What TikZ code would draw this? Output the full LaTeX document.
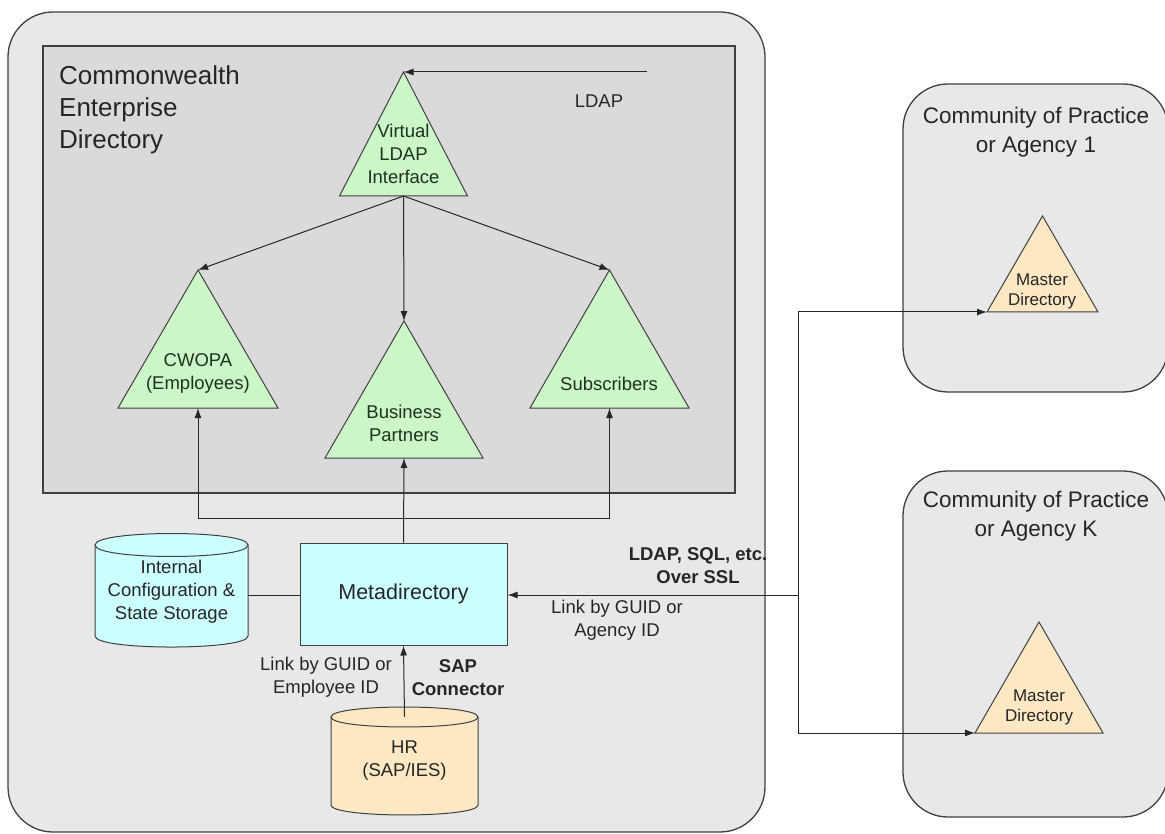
\documentclass[tikz,border=0pt]{standalone}
\usepackage{fontspec}
\setmainfont{Liberation Sans}
\usetikzlibrary{arrows.meta}
\definecolor{outerfill}{HTML}{E8E8E8}
\definecolor{innerfill}{HTML}{DADADA}
\definecolor{edgec}{HTML}{404040}
\definecolor{trigreen}{HTML}{CCF5C8}
\definecolor{peach}{HTML}{FDE8C4}
\definecolor{cyanfill}{HTML}{CCFFFF}
\definecolor{txt}{HTML}{262626}
\definecolor{greentxt}{HTML}{1E331E}
\begin{document}
\begin{tikzpicture}[x=1pt,y=-1pt,
  container/.style={draw=edgec, line width=1.3pt, fill=outerfill, rounded corners=45pt},
  tribox/.style={minimum width=#1, inner sep=0pt, outer sep=0pt, draw=none},
  tri/.style={draw=edgec, line width=1pt, fill=trigreen, line join=miter},
  tritext/.style={font=\fontsize{18.5}{23}\selectfont, text=greentxt, align=center, inner sep=0pt},
  mastertext/.style={font=\fontsize{17}{20}\selectfont, text=txt, align=center, inner sep=0pt},
  lbl/.style={font=\fontsize{18.5}{23}\selectfont, text=txt, align=center, inner sep=0pt},
  blbl/.style={font=\fontsize{18.5}{23}\selectfont\bfseries, text=txt, align=center, inner sep=0pt},
  arr/.style={-{Latex[length=10pt,width=7pt]}, line width=1pt, draw=black!85},
  plain/.style={line width=1pt, draw=black!85},
  cyl/.style={draw=edgec, line width=1pt}
]
\useasboundingbox (0,0) rectangle (1165,834);

% outer containers
\draw[container] (8,12) rectangle (765,832);
\draw[container] (903,84) rectangle (1168,392);
\draw[container] (903,471) rectangle (1168,817);

% inner directory box
\draw[draw=edgec, line width=1.3pt, fill=innerfill] (43,46) rectangle (735,493);
\node[anchor=west, align=left, inner sep=0pt, text=txt,
      font=\fontsize{26}{32}\selectfont] (ced) at (59,110) {Commonwealth\\Enterprise\\Directory};

% right box titles
\node[inner sep=0pt, align=center, text=txt, font=\fontsize{22.5}{29}\selectfont] (cop1) at (1036,132.5) {Community of Practice\\or Agency 1};
\node[inner sep=0pt, align=center, text=txt, font=\fontsize{22.5}{29}\selectfont] (copk) at (1036,516) {Community of Practice\\or Agency K};

% triangle placeholders
\node[tribox=128pt, minimum height=124pt] (vl) at (403.5,134) {};
\node[tribox=160pt, minimum height=138pt] (cwopa) at (198,339) {};
\node[tribox=158pt, minimum height=137pt] (bp) at (404,389.5) {};
\node[tribox=159pt, minimum height=138pt] (subs) at (609.5,339) {};
\node[tribox=111pt, minimum height=96pt] (m1) at (1042.5,264) {};
\node[tribox=128pt, minimum height=111pt] (mk) at (1039,677.5) {};

\foreach \t in {vl,cwopa,bp,subs}
  \draw[tri] (\t.north) -- (\t.south east) -- (\t.south west) -- cycle;
\foreach \t in {m1,mk}
  \draw[tri, fill=peach] (\t.north) -- (\t.south east) -- (\t.south west) -- cycle;

\node[tritext] (vlt) at (403.5,154) {Virtual\\LDAP\\Interface};
\node[tritext] (cwt) at (198,373) {CWOPA\\(Employees)};
\node[tritext] (bpt) at (404,423) {Business\\Partners};
\node[tritext] (sbt) at (609,384) {Subscribers};
\node[mastertext] (m1t) at (1042,291) {Master\\Directory};
\node[mastertext] (mkt) at (1039,707.5) {Master\\Directory};

% metadirectory
\node[draw=edgec, line width=1pt, fill=cyanfill, minimum width=207pt, minimum height=102pt,
      inner sep=0pt, text=txt, font=\fontsize{21.5}{26}\selectfont] (meta) at (403.5,594) {Metadirectory};

% internal storage cylinder
\path[cyl, fill=cyanfill] (95,545) -- (95,636) .. controls (95,650.7) and (248,650.7) .. (248,636)
  -- (248,545) .. controls (248,529.7) and (95,529.7) .. (95,545) -- cycle;
\draw[cyl] (95,545) .. controls (95,560.3) and (248,560.3) .. (248,545);
\node[lbl, minimum width=153pt, minimum height=114pt] (ics) at (171.5,592) {Internal\\Configuration \&\\State Storage};

% HR cylinder
\path[cyl, fill=peach] (331,717) -- (331,805) .. controls (331,818.3) and (478,818.3) .. (478,805)
  -- (478,717) .. controls (478,703.7) and (331,703.7) .. (331,717) -- cycle;
\draw[cyl] (331,717) .. controls (331,730.3) and (478,730.3) .. (478,717);
\node[lbl, minimum width=147pt, minimum height=108pt] (hr) at (404.5,761) {HR\\(SAP/IES)};

% connectors inside
\coordinate (ldapsrc) at (647,72);
\draw[arr] (ldapsrc) -- (vl.north);
\node[lbl] (ldapl) at (599,101) {LDAP};
\draw[arr] (vl.south) -- (cwopa.north);
\draw[arr] (vl.south) -- (bp.north);
\draw[arr] (vl.south) -- (subs.north);

\draw[arr] (meta.north) -- (bp.south);
\coordinate (jn) at (403.5,518);
\draw[arr] (jn) -| (cwopa.south);
\draw[arr] (jn) -| (subs.south);

\draw[plain] (ics.east |- 0,595) -- (meta.west |- 0,595);

\draw[arr] ([yshift=-10pt]hr.north) -- (meta.south);
\node[lbl] (l1) at (326,677.5) {Link by GUID or\\Employee ID};
\node[blbl] (l2) at (458,677.5) {SAP\\Connector};

% external links
\coordinate (sp1) at (798,312);
\coordinate (spm) at (798,595);
\coordinate (sp2) at (798,733);
\draw[plain] (sp1) -- (sp2);
\draw[arr] (spm) -- (meta.east |- spm);
\draw[arr] (sp1) -- (m1.south west);
\draw[arr] (sp2) -- (mk.south west);
\node[blbl] (l3) at (698,566) {LDAP, SQL, etc.\\Over SSL};
\node[lbl] (l4) at (617,620.5) {Link by GUID or\\Agency ID};
\end{tikzpicture}
\end{document}
